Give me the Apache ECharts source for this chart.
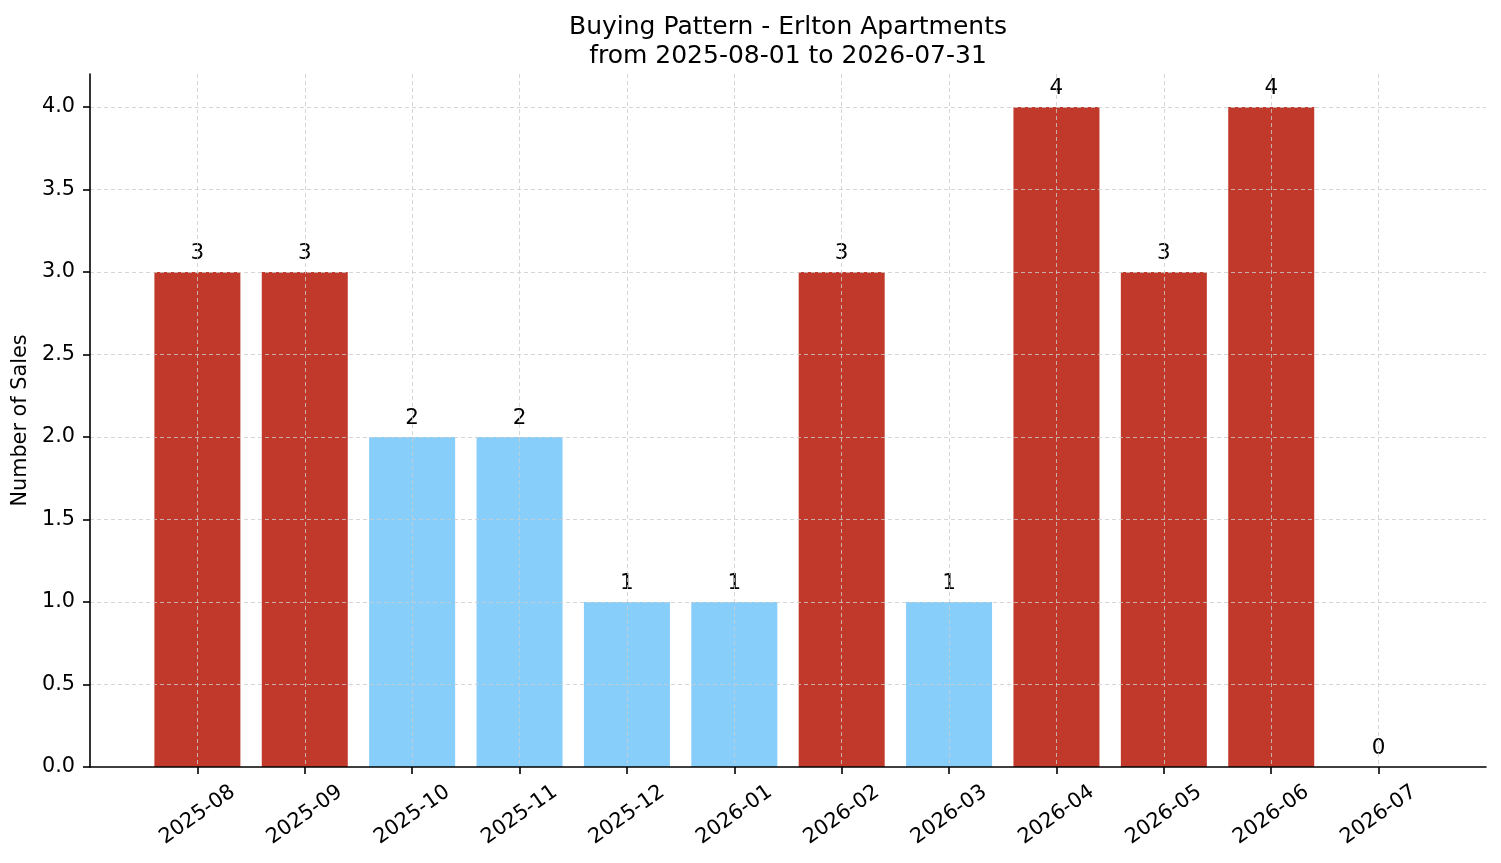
<!DOCTYPE html>
<html>
<head>
<meta charset="utf-8">
<script src="https://cdn.jsdelivr.net/npm/echarts@6/dist/echarts.min.js"></script>
<style>html,body{margin:0;padding:0;background:#fff;}#c{width:1501px;height:863px;}</style>
</head>
<body>
<div id="c"></div>
<script>
const months = ['2025-08','2025-09','2025-10','2025-11','2025-12','2026-01','2026-02','2026-03','2026-04','2026-05','2026-06','2026-07'];
const sales = [3, 3, 2, 2, 1, 1, 3, 1, 4, 3, 4, 0];
const yTicks = [0, 0.5, 1, 1.5, 2, 2.5, 3, 3.5, 4];

const FONT = 'DejaVu Sans';
const axisData = [''].concat(months, ['']);
const seriesData = [null].concat(sales, [null]);
const isCat = (i, v) => v !== '';

const chart = echarts.init(document.getElementById('c'), null, {renderer: 'canvas'});
chart.setOption({
  animation: false,
  backgroundColor: '#fff',
  title: {
    text: 'Buying Pattern - Erlton Apartments\nfrom 2025-08-01 to 2026-07-31',
    left: 788, top: 13, textAlign: 'center', padding: 0,
    textStyle: {fontFamily: FONT, fontSize: 25, fontWeight: 'normal', color: '#000', lineHeight: 29}
  },
  grid: {left: 90, right: 15, top: 74, bottom: 96, containLabel: false, outerBoundsMode: 'none'},
  xAxis: {
    type: 'category', data: axisData, boundaryGap: false, z: 5,
    axisLine: {show: true, lineStyle: {color: '#000', width: 1.6}},
    axisTick: {show: true, length: 7, interval: isCat, lineStyle: {color: '#000', width: 1.6}},
    axisLabel: {interval: isCat, rotate: 35, align: 'center', verticalAlign: 'middle', margin: 48,
      fontFamily: FONT, fontSize: 20.8, color: '#000'},
    splitLine: {show: true, interval: isCat, lineStyle: {color: '#cccccc', width: 0.8, type: [4, 3]}}
  },
  yAxis: {
    type: 'value', min: 0, max: 4.2, z: 5,
    name: 'Number of Sales', nameLocation: 'middle', nameGap: 53,
    nameTextStyle: {fontFamily: FONT, fontSize: 20.8, color: '#000'},
    axisLine: {show: true, lineStyle: {color: '#000', width: 1.6}},
    axisTick: {show: true, length: 7, customValues: yTicks, lineStyle: {color: '#000', width: 1.6}},
    axisLabel: {customValues: yTicks, margin: 15, formatter: v => v.toFixed(1),
      fontFamily: FONT, fontSize: 20.8, color: '#000'},
    splitLine: {show: false}
  },
  series: [{
    type: 'bar', data: seriesData, barWidth: 86,
    itemStyle: {color: p => (p.value >= 3 ? '#c0392b' : '#87cefa')},
    label: {show: true, position: 'top', distance: 8, fontFamily: FONT, fontSize: 21.5, color: '#000'},
    markLine: {
      silent: true, symbol: 'none', animation: false,
      label: {show: false},
      lineStyle: {color: '#cccccc', width: 0.8, type: [4, 3]},
      data: yTicks.filter(v => v > 0).map(v => ({yAxis: v}))
    }
  }]
});
</script>
</body>
</html>
